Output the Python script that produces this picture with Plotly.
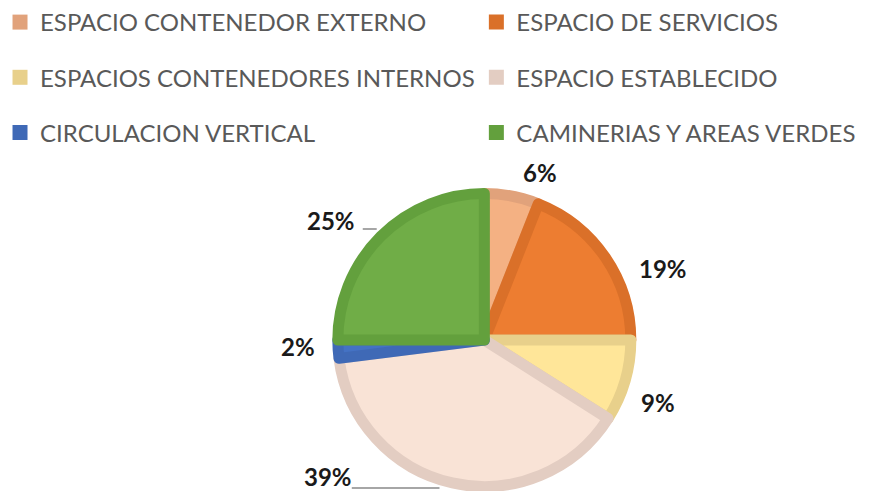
import plotly.graph_objects as go

# Distribución de espacios (porcentaje del total)
categories = [
    "ESPACIO CONTENEDOR EXTERNO",
    "ESPACIO DE SERVICIOS",
    "ESPACIOS CONTENEDORES INTERNOS",
    "ESPACIO ESTABLECIDO",
    "CIRCULACION VERTICAL",
    "CAMINERIAS Y AREAS VERDES",
]
values = [6, 19, 9, 39, 2, 25]

fill_colors = ["#F4B183", "#ED7D31", "#FFE699", "#F9E3D6", "#4472C4", "#70AD47"]
edge_colors = ["#E1A27B", "#DA7029", "#E8D08B", "#E3CDC2", "#3F69B6", "#63A03D"]

W, H = 869, 491
cx, cy, r = 483, 340, 147  # pie centre and radius in pixels

fig = go.Figure()

fig.add_trace(go.Pie(
    labels=categories,
    values=values,
    sort=False,
    direction="clockwise",
    rotation=0,
    textinfo="none",
    hoverinfo="label+percent",
    showlegend=False,
    marker=dict(colors=fill_colors, line=dict(color=edge_colors, width=11)),
    domain=dict(x=[(cx - r) / W, (cx + r) / W], y=[(H - cy - r) / H, (H - cy + r) / H]),
))

# Legend entries: two columns, three rows
for i, (name, col) in enumerate(zip(categories, edge_colors)):
    fig.add_trace(go.Scatter(
        x=[None], y=[None], mode="markers", name=name,
        marker=dict(symbol="square", size=15, color=col),
        legend="legend" if i % 2 == 0 else "legend2",
        legendgroup=name,
        hoverinfo="skip",
    ))

# Percentage labels placed around the pie
label_pos = [(539, 172), (662, 268), (657, 402), (326, 476), (296, 346), (329, 221)]
for v, (lx, ly) in zip(values, label_pos):
    fig.add_annotation(
        x=lx / W, y=1 - ly / H, xref="paper", yref="paper",
        text=f"{v}%", showarrow=False,
        font=dict(family="Lato", size=24, color="#1A1A1A", weight="bold"),
        xanchor="center", yanchor="middle",
    )

# Leader lines for the 25% and 39% labels
for x0, x1, yy in [(361, 375, 229), (350, 438, 488)]:
    fig.add_shape(type="line", xref="paper", yref="paper",
                  x0=x0 / W, x1=x1 / W, y0=1 - yy / H, y1=1 - yy / H,
                  line=dict(color="#A6A6A6", width=2))

legend_style = dict(
    font=dict(family="Lato", size=24, color="#595959"),
    tracegroupgap=21, bgcolor="rgba(0,0,0,0)", borderwidth=0,
    xanchor="left", yanchor="top", y=1.0,
)
fig.update_layout(
    width=W, height=H,
    margin=dict(l=0, r=0, t=0, b=0),
    paper_bgcolor="white", plot_bgcolor="white",
    xaxis=dict(visible=False), yaxis=dict(visible=False),
    legend=dict(x=-3 / W, **legend_style),
    legend2=dict(x=475 / W, **legend_style),
)

fig.write_html("out.html")
